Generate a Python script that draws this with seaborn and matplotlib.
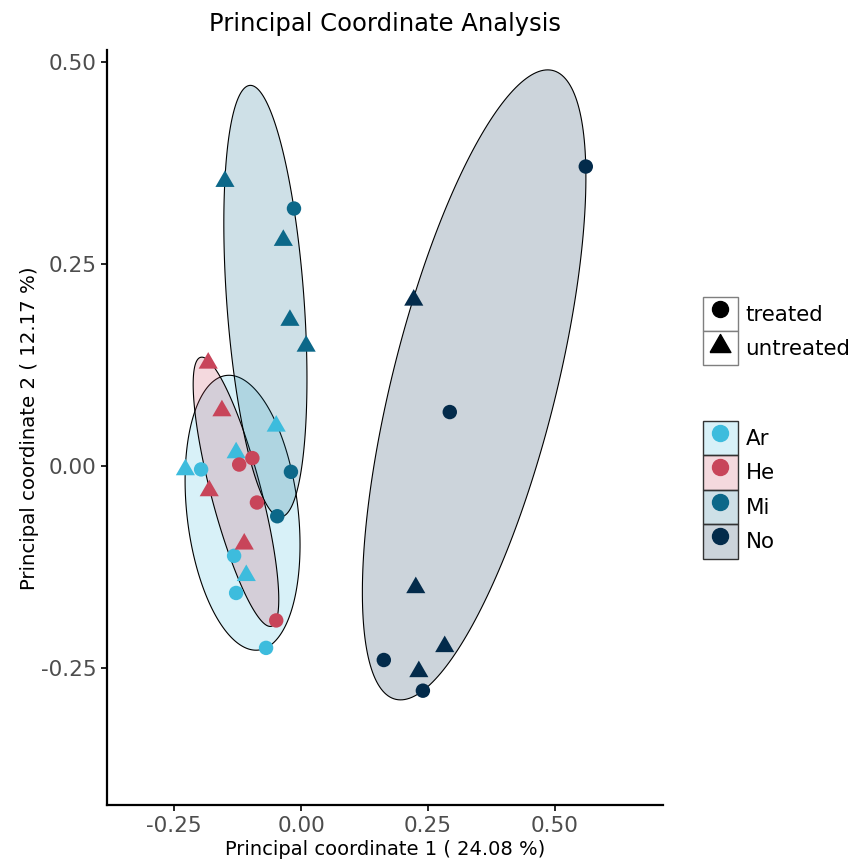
import numpy as np
import pandas as pd
import matplotlib
matplotlib.use("Agg")
import matplotlib.pyplot as plt
import seaborn as sns
from matplotlib.patches import Polygon, Patch
from matplotlib.lines import Line2D
from matplotlib.colors import to_rgba

# PCoA scores
ar_x = [-0.228, -0.197, -0.128, -0.049, -0.132, -0.108, -0.128, -0.069]
ar_y = [-0.001, -0.004, 0.020, 0.053, -0.111, -0.132, -0.157, -0.225]
ar_trt = ["untreated", "treated", "untreated", "untreated", "treated", "untreated", "treated", "treated"]

he_x = [-0.183, -0.156, -0.122, -0.096, -0.181, -0.087, -0.112, -0.049]
he_y = [0.131, 0.072, 0.002, 0.010, -0.027, -0.045, -0.093, -0.191]
he_trt = ["untreated", "untreated", "treated", "treated", "untreated", "treated", "untreated", "treated"]

mi_x = [-0.150, -0.014, -0.035, -0.022, 0.010, -0.020, -0.047]
mi_y = [0.356, 0.319, 0.283, 0.184, 0.152, -0.007, -0.062]
mi_trt = ["untreated", "treated", "untreated", "untreated", "untreated", "treated", "treated"]

no_x = [0.561, 0.222, 0.293, 0.226, 0.283, 0.163, 0.232, 0.240]
no_y = [0.371, 0.209, 0.067, -0.147, -0.220, -0.240, -0.251, -0.278]
no_trt = ["treated", "untreated", "treated", "untreated", "untreated", "treated", "untreated", "treated"]

groups = ["Ar", "He", "Mi", "No"]
colors = ["#3DBCDD", "#C8455A", "#0C6889", "#032B4B"]

df = pd.concat([
    pd.DataFrame({"PC1": ar_x, "PC2": ar_y, "Treatment": ar_trt, "Group": "Ar"}),
    pd.DataFrame({"PC1": he_x, "PC2": he_y, "Treatment": he_trt, "Group": "He"}),
    pd.DataFrame({"PC1": mi_x, "PC2": mi_y, "Treatment": mi_trt, "Group": "Mi"}),
    pd.DataFrame({"PC1": no_x, "PC2": no_y, "Treatment": no_trt, "Group": "No"}),
], ignore_index=True)

# equilateral triangle like R's pch 17
tri = [(-1, -0.866), (1, -0.866), (0, 0.866), (-1, -0.866)]


# smallest ellipse around each group (Khachiyan), like ggforce mark_ellipse
def enclosing_ellipse(P, tol=1e-7, maxit=20000, seg=240):
    mu = P.mean(axis=0)
    P = P - mu
    n, d = P.shape
    Q = np.vstack([P.T, np.ones(n)])
    u = np.ones(n) / n
    for _ in range(maxit):
        X = (Q * u) @ Q.T
        M = np.sum(Q * np.linalg.solve(X, Q), axis=0)
        j = np.argmax(M)
        step = (M[j] - d - 1) / ((d + 1) * (M[j] - 1))
        new_u = (1 - step) * u
        new_u[j] += step
        err = np.abs(new_u - u).sum()
        u = new_u
        if err < tol:
            break
    c = P.T @ u
    A = np.linalg.inv((P.T * u) @ P - np.outer(c, c)) / d
    vals, vecs = np.linalg.eigh(A)
    a = np.linspace(0, 2 * np.pi, seg + 1)
    circ = np.vstack([np.cos(a), np.sin(a)])
    return (c[:, None] + mu[:, None] + vecs @ np.diag(1 / np.sqrt(vals)) @ circ).T


sns.set_style("ticks")
plt.rcParams["font.family"] = ["DejaVu Sans"]
plt.rcParams["text.color"] = "black"
plt.rcParams["axes.labelcolor"] = "black"

fig = plt.figure(figsize=(8.51, 8.66), dpi=100)
ax = fig.add_axes([0.126, 0.070, 0.653, 0.872])

for g, c in zip(groups, colors):
    sub = df[df.Group == g][["PC1", "PC2"]].to_numpy()
    e = enclosing_ellipse(sub)
    ax.add_patch(Polygon(e, closed=True, facecolor=to_rgba(c, 0.2),
                         edgecolor="black", linewidth=0.8, zorder=1))

sns.scatterplot(data=df, x="PC1", y="PC2", hue="Group", style="Treatment",
                size="Treatment", sizes={"treated": 108, "untreated": 190},
                palette=dict(zip(groups, colors)),
                markers={"treated": "o", "untreated": tri},
                linewidth=0, legend=False, ax=ax, zorder=3)

ax.set_xlim(-0.382, 0.713)
ax.set_ylim(-0.42, 0.515)
ax.set_xticks([-0.25, 0, 0.25, 0.5])
ax.set_xticklabels(["-0.25", "0.00", "0.25", "0.50"])
ax.set_yticks([-0.25, 0, 0.25, 0.5])
ax.set_yticklabels(["-0.25", "0.00", "0.25", "0.50"])
ax.tick_params(labelsize=15.5, colors="black", labelcolor="#4D4D4D", length=4, width=1.2)
for s in ["top", "right"]:
    ax.spines[s].set_visible(False)
for s in ["left", "bottom"]:
    ax.spines[s].set_linewidth(1.6)
    ax.spines[s].set_color("black")
ax.set_xlabel("Principal coordinate 1 ( 24.08 %)", fontsize=14, labelpad=3)
ax.set_ylabel("Principal coordinate 2 ( 12.17 %)", fontsize=14.2, labelpad=1.5)
ax.set_title("Principal Coordinate Analysis", fontsize=17.5, pad=14)

shape_handles = [
    (Patch(facecolor="white", edgecolor="#7F7F7F", linewidth=1),
     Line2D([], [], marker="o", color="black", linestyle="", markersize=11.5)),
    (Patch(facecolor="white", edgecolor="#7F7F7F", linewidth=1),
     Line2D([], [], marker=tri, color="black", linestyle="", markersize=15)),
]
fig.legend(shape_handles, ["treated", "untreated"], loc="upper left",
           bbox_to_anchor=(0.826, 0.657), frameon=False, fontsize=15.4,
           handlelength=1.64, handleheight=2.08, labelspacing=0,
           handletextpad=0.35, borderpad=0, borderaxespad=0)

col_handles = [
    (Patch(facecolor=to_rgba(c, 0.2), edgecolor="#333333", linewidth=1),
     Line2D([], [], marker="o", color=c, linestyle="", markersize=11.5))
    for c in colors
]
fig.legend(col_handles, groups, loc="upper left",
           bbox_to_anchor=(0.826, 0.514), frameon=False, fontsize=15.4,
           handlelength=1.64, handleheight=2.1, labelspacing=0,
           handletextpad=0.35, borderpad=0, borderaxespad=0)

fig.savefig("out.png", dpi=100)
